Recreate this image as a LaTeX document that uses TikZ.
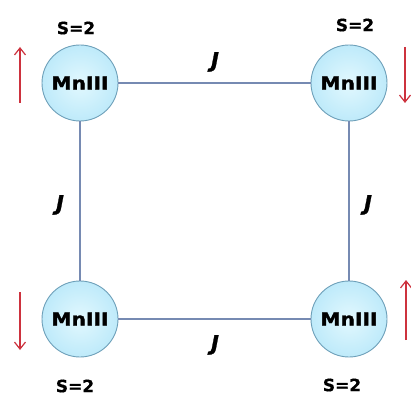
\documentclass[tikz,border=0pt]{standalone}
\usepackage{fontspec}
\setmainfont{DejaVu Sans}
\newfontfamily\heavyfont{DejaVu Sans Bold}[FakeBold=1.6]
\newfontfamily\semiheavyfont{DejaVu Sans Bold}[FakeBold=0.6]
\newfontfamily\heavyslant{DejaVu Sans Bold Oblique}[FakeBold=1.2]
\usetikzlibrary{arrows.meta}
\definecolor{ionfill}{RGB}{190,234,250}
\definecolor{ioninner}{RGB}{226,248,254}
\definecolor{ionedge}{RGB}{110,160,185}
\definecolor{bondcol}{RGB}{118,138,178}
\definecolor{spincol}{RGB}{205,50,62}
\tikzset{
  ion/.style={circle, draw=ionedge, line width=0.9pt, minimum size=76pt,
    inner sep=0pt, shading=radial, inner color=ioninner, outer color=ionfill,
    font=\heavyfont\fontsize{18}{18}\selectfont},
  bond/.style={draw=bondcol, line width=1.2pt},
  spin/.style={draw=spincol, line width=1.2pt, -{Straight Barb[length=7pt,width=11pt]}},
  spinlbl/.style={font=\semiheavyfont\fontsize{17}{17}\selectfont},
  coupling/.style={font=\heavyslant\fontsize{21}{21}\selectfont},
}
\begin{document}
\begin{tikzpicture}[x=1pt,y=1pt]
  \useasboundingbox (0,0) rectangle (411,396);
  % manganese ions at the corners of the square
  \node[ion] (tl) at (80,313) {\scalebox{1.12}[1]{MnIII}};
  \node[ion] (tr) at (349,313) {\scalebox{1.12}[1]{MnIII}};
  \node[ion] (bl) at (80,77) {\scalebox{1.12}[1]{MnIII}};
  \node[ion] (br) at (349,77) {\scalebox{1.12}[1]{MnIII}};
  % exchange pathways
  \draw[bond] (tl) -- (tr);
  \draw[bond] (bl) -- (br);
  \draw[bond] (tl) -- (bl);
  \draw[bond] (tr) -- (br);
  % coupling constants
  \node[coupling] (jt) at (215,334) {J};
  \node[coupling] (jb) at (215,51) {J};
  \node[coupling] (jl) at (60,191) {J};
  \node[coupling] (jr) at (368,191) {J};
  % spin labels
  \node[spinlbl] (stl) at (76,368) {S=2};
  \node[spinlbl] (str) at (355,371) {S=2};
  \node[spinlbl] (sbl) at (75,10) {S=2};
  \node[spinlbl] (sbr) at (342,11) {S=2};
  % spin orientations
  \coordinate (atl1) at (20,293); \coordinate (atl2) at (20,349);
  \coordinate (atr1) at (405,349); \coordinate (atr2) at (405,293);
  \coordinate (abl1) at (20,104); \coordinate (abl2) at (20,46);
  \coordinate (abr1) at (406,56); \coordinate (abr2) at (406,116);
  \draw[spin] (atl1) -- (atl2);
  \draw[spin] (atr1) -- (atr2);
  \draw[spin] (abl1) -- (abl2);
  \draw[spin] (abr1) -- (abr2);
\end{tikzpicture}
\end{document}
